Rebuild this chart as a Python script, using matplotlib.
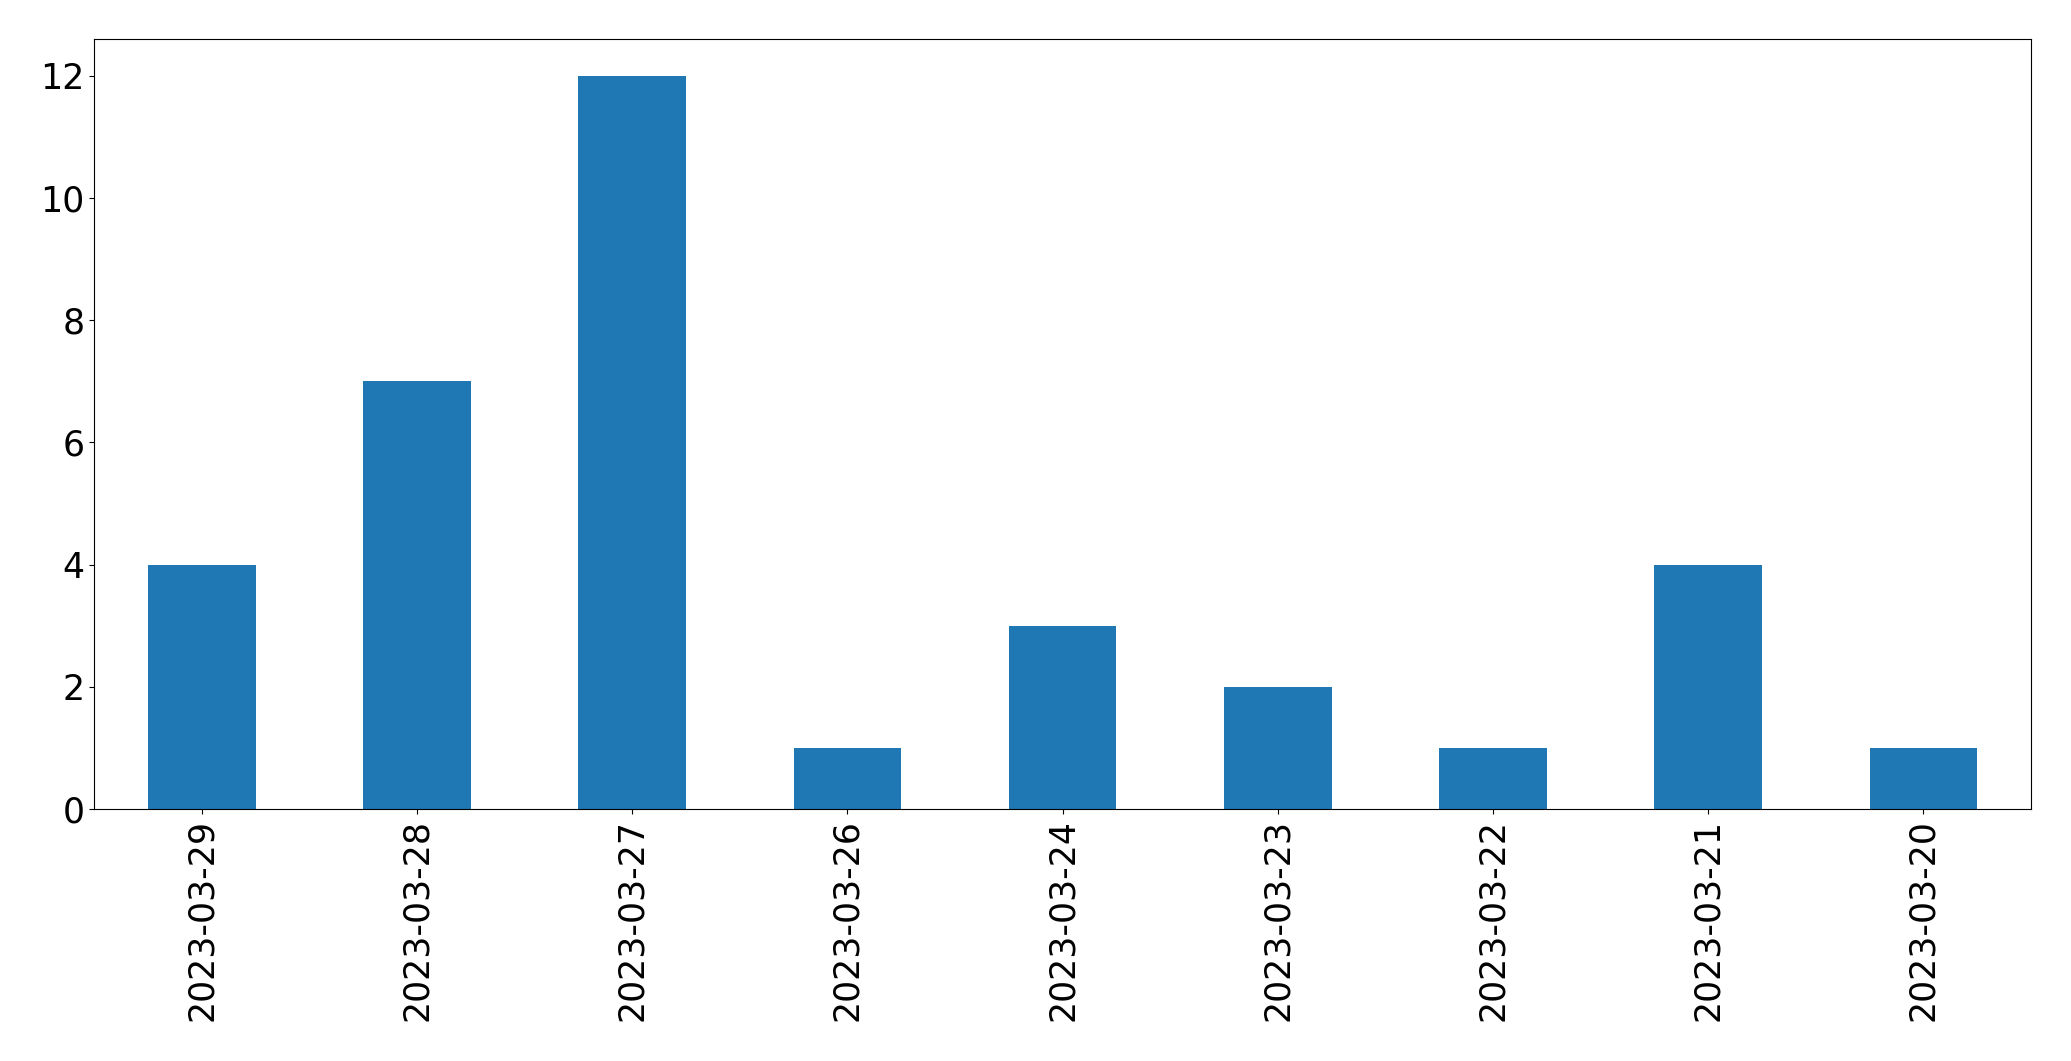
import pandas as pd
import matplotlib.pyplot as plt

# datas e contagens
datas = ["2023-03-29", "2023-03-28", "2023-03-27", "2023-03-26", "2023-03-24",
         "2023-03-23", "2023-03-22", "2023-03-21", "2023-03-20"]
contagens = [4, 7, 12, 1, 3, 2, 1, 4, 1]

serie = pd.Series(contagens, index=datas)

fig = plt.figure(figsize=(20.71, 10.61), dpi=100)
ax = fig.add_axes([0.0455, 0.2375, 0.9352, 0.7255])
serie.plot(kind='bar', ax=ax, color='#1f77b4', fontsize=25)
ax.tick_params(axis='x', labelrotation=90)
ax.set_xlabel('')

fig.savefig("out.png", dpi=100)
